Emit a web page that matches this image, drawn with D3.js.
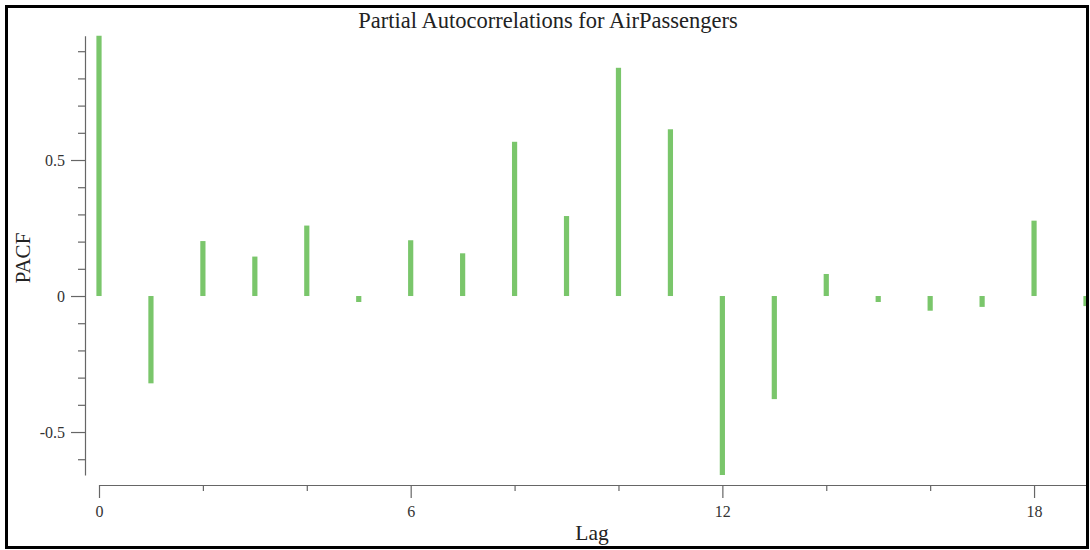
<!DOCTYPE html>
<html>
<head>
<meta charset="utf-8">
<script src="https://cdn.jsdelivr.net/npm/d3@7"></script>
<style>
  html, body { margin: 0; padding: 0; background: #fff; }
  svg { display: block; }
  text { font-family: "Liberation Serif", "Times New Roman", serif; }
</style>
</head>
<body>
<svg id="chart" width="1090" height="550"></svg>
<script>
// ---- data ----
const lags = [0, 1, 2, 3, 4, 5, 6, 7, 8, 9, 10, 11, 12, 13, 14, 15, 16, 17, 18, 19];
const pacf = [1.0, -0.321, 0.202, 0.145, 0.259, -0.022, 0.205, 0.157, 0.567, 0.294,
              0.839, 0.613, -0.658, -0.379, 0.081, -0.022, -0.054, -0.040, 0.277, -0.037];
const yTicks = [-0.6, -0.5, -0.4, -0.3, -0.2, -0.1, 0, 0.1, 0.2, 0.3, 0.4, 0.5, 0.6, 0.7, 0.8, 0.9];
const yLabelTicks = [-0.5, 0, 0.5];
const xTicks = [0, 2, 4, 6, 8, 10, 12, 14, 16, 18];
const xLabelTicks = [0, 6, 12, 18];
const title = "Partial Autocorrelations for AirPassengers";
const xTitle = "Lag";
const yTitle = "PACF";

// ---- layout ----
const svg = d3.select("#chart");
const yAxisX = 85, xAxisY = 485;
const x = d3.scaleLinear().domain([0, 19]).range([99, 1086]);
const y = d3.scaleLinear().domain([-0.658, 0.957]).range([475, 35.7]);
const barColor = "#7ac66b";
const axisColor = "#666";

// clip
svg.append("defs").append("clipPath").attr("id", "plotclip")
  .append("rect").attr("x", 86).attr("y", y.range()[1]).attr("width", 1001).attr("height", y.range()[0] - y.range()[1]);

// bars
svg.append("g").attr("clip-path", "url(#plotclip)")
  .selectAll("rect").data(lags).join("rect")
  .attr("x", (d) => x(d) - 2.6)
  .attr("width", 5.2)
  .attr("y", (d, i) => Math.min(y(0), y(pacf[i])))
  .attr("height", (d, i) => Math.abs(y(pacf[i]) - y(0)))
  .attr("fill", barColor);

// y axis
const isMajorY = (v) => yLabelTicks.some(t => Math.abs(t - v) < 1e-9);
const fmtY = (v) => (isMajorY(v) ? (Math.abs(v) < 1e-9 ? "0" : (v < 0 ? "-" : "") + Math.abs(v).toFixed(1)) : "");
const gy = svg.append("g").attr("transform", `translate(${yAxisX},0)`)
  .call(d3.axisLeft(y).tickValues(yTicks).tickFormat(fmtY).tickSizeOuter(0));
gy.attr("font-family", null);
gy.select(".domain").attr("stroke", axisColor).attr("stroke-width", 1.2);
gy.selectAll(".tick line").attr("stroke", axisColor).attr("stroke-width", 1.2)
  .attr("x2", d => isMajorY(d) ? -14 : -7);
gy.selectAll(".tick text").attr("x", -20).attr("fill", "#333").style("font-size", "16px")
  .style("font-family", "'Liberation Serif', serif");

// x axis
const fmtX = (v) => (xLabelTicks.includes(v) ? String(v) : "");
const gx = svg.append("g").attr("transform", `translate(0,${xAxisY})`)
  .call(d3.axisBottom(x).tickValues(xTicks).tickFormat(fmtX).tickSizeOuter(0));
gx.attr("font-family", null);
gx.select(".domain").attr("stroke", axisColor).attr("stroke-width", 1.2);
gx.selectAll(".tick line").attr("stroke", axisColor).attr("stroke-width", 1.2)
  .attr("y2", d => xLabelTicks.includes(d) ? 13 : 6);
gx.selectAll(".tick text").attr("y", 21).attr("fill", "#333").style("font-size", "16px")
  .style("font-family", "'Liberation Serif', serif");

// titles
svg.append("text").attr("x", 548).attr("y", 28).attr("text-anchor", "middle")
  .style("font-size", "22.5px").attr("fill", "#222").text(title);
svg.append("text").attr("x", 592).attr("y", 540).attr("text-anchor", "middle")
  .style("font-size", "21.5px").attr("fill", "#222").text(xTitle);
svg.append("text").attr("transform", "translate(30,258) rotate(-90)").attr("text-anchor", "middle")
  .style("font-size", "21px").attr("fill", "#222").text(yTitle);

// frame
svg.append("rect").attr("x", 6.5).attr("y", 6.5).attr("width", 1081).attr("height", 541)
  .attr("fill", "none").attr("stroke", "#000").attr("stroke-width", 3);
</script>
</body>
</html>
